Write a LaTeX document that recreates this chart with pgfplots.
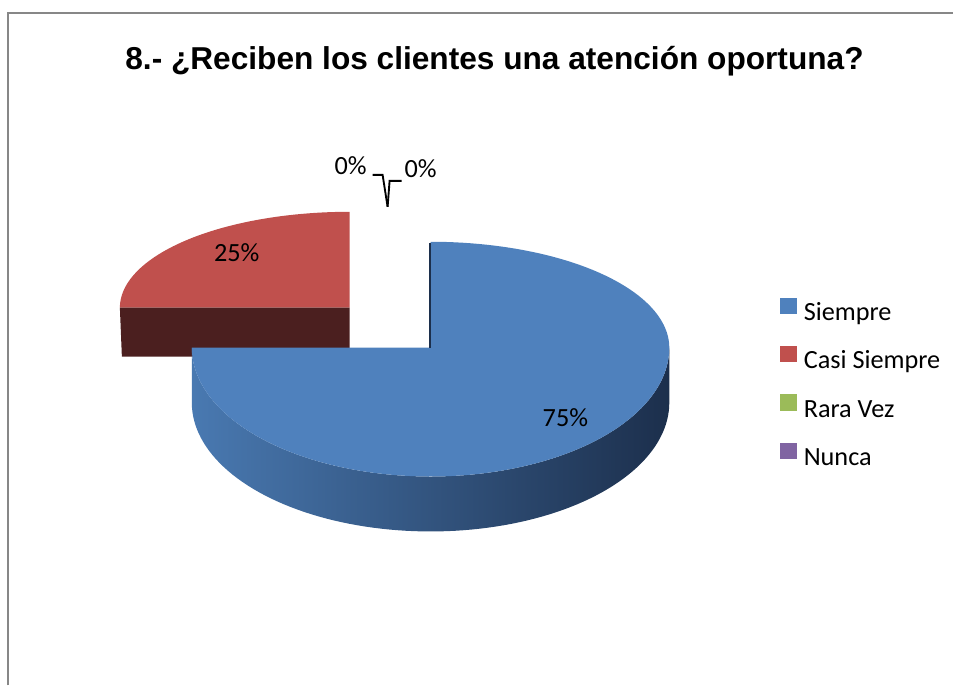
\documentclass[border=0pt]{standalone}
\usepackage{pgfplots}
\pgfplotsset{compat=1.18}
\usepackage{fontspec}
\setmainfont{Carlito}
\newfontfamily\arialfont{Liberation Sans}
\definecolor{cBlue}{HTML}{4F81BD}
\definecolor{cRed}{HTML}{C0504D}
\definecolor{cRedDark}{HTML}{4B1F1F}
\definecolor{cGreen}{HTML}{9BBB59}
\definecolor{cPurple}{HTML}{8064A2}
\definecolor{cSideL}{HTML}{4979B1}
\definecolor{cSideR}{HTML}{1C2F4C}
\definecolor{cFrame}{HTML}{878787}
% data (percent)
\def\vSiempre{75}
\def\vCasi{25}
\def\vRara{0}
\def\vNunca{0}
\begin{document}
\begin{tikzpicture}
\begin{axis}[
  width=715.5pt, height=514.5pt, scale only axis,
  xmin=0, xmax=954, ymin=0, ymax=686, y dir=reverse,
  hide axis, clip=false,
  legend style={at={(axis cs:777,295)}, anchor=north west, draw=none, fill=none,
    font=\fontsize{19.7}{22}\selectfont, row sep=15.1pt,
    nodes={text height=14pt, text depth=4pt, inner sep=0pt, inner xsep=5.6pt}},
  legend cell align=left,
]
% invisible corners so that the page covers the whole chart area
\addplot[draw=none, forget plot] coordinates {(0,0) (954,686)};
% frame
\addplot[cFrame, line width=1.5pt, forget plot] coordinates {(8,686) (8,13.5) (954,13.5)};
% red slice (exploded), angles 90 .. 90+3.6*25
\addplot[fill=cRed, draw=none, forget plot, domain=90:{90+3.6*\vCasi}, samples=60, variable=\t]
  ({350+230*cos(\t)}, {308-96*sin(\t)}) -- (axis cs:350,308) -- cycle;
\addplot[fill=cRedDark, draw=none, forget plot] coordinates {(120,308) (350,308) (350,357) (122,357)} -- cycle;
% blue slice side (front)
\addplot[draw=none, left color=cSideL, right color=cSideR, forget plot,
  samples at={-180,-178,...,0,0.001,2,4,...,180}, variable=\t]
  ({431+239*cos(\t)}, {348+129*sin(abs(\t))+(\t>0)*55}) -- cycle;
% blue slice top face, angles 90 down to 90-3.6*75
\addplot[fill=cBlue, draw=none, forget plot, domain={90-3.6*\vSiempre}:90, samples=140, variable=\t]
  ({431+239*cos(\t)}, {348-117.5*sin(\t)+11.5*abs(sin(\t))}) -- (axis cs:431,348) -- cycle;
\addplot[cSideR, line width=1pt, forget plot] coordinates {(430.5,243) (430.5,348)};
% leader lines for the 0% slices
\addplot[black, line width=1.4pt, forget plot] coordinates {(373,175) (383,175) (388,207)};
\addplot[black, line width=1.4pt, forget plot] coordinates {(388,207) (390,181) (402,181)};
% labels
\node[anchor=base, font=\fontsize{19.7}{22}\selectfont] at (axis cs:237,262) {\vCasi\%};
\node[anchor=base, font=\fontsize{19.7}{22}\selectfont] at (axis cs:566,427) {\vSiempre\%};
\node[anchor=base, font=\fontsize{19.7}{22}\selectfont] at (axis cs:351,175) {\vRara\%};
\node[anchor=base, font=\fontsize{19.7}{22}\selectfont] at (axis cs:421,178) {\vNunca\%};
% title
\node[anchor=base, font=\arialfont\bfseries\fontsize{23.75}{28}\selectfont] at (axis cs:495,70)
  {8.- ¿Reciben los clientes una atención oportuna?};
% legend
\addlegendimage{legend image code/.code={\fill[cBlue] (0pt,0.5pt) rectangle (11.5pt,12pt);}}
\addlegendentry{Siempre}
\addlegendimage{legend image code/.code={\fill[cRed] (0pt,0.5pt) rectangle (11.5pt,12pt);}}
\addlegendentry{Casi Siempre}
\addlegendimage{legend image code/.code={\fill[cGreen] (0pt,0.5pt) rectangle (11.5pt,12pt);}}
\addlegendentry{Rara Vez}
\addlegendimage{legend image code/.code={\fill[cPurple] (0pt,0.5pt) rectangle (11.5pt,12pt);}}
\addlegendentry{Nunca}
\end{axis}
\end{tikzpicture}
\end{document}
